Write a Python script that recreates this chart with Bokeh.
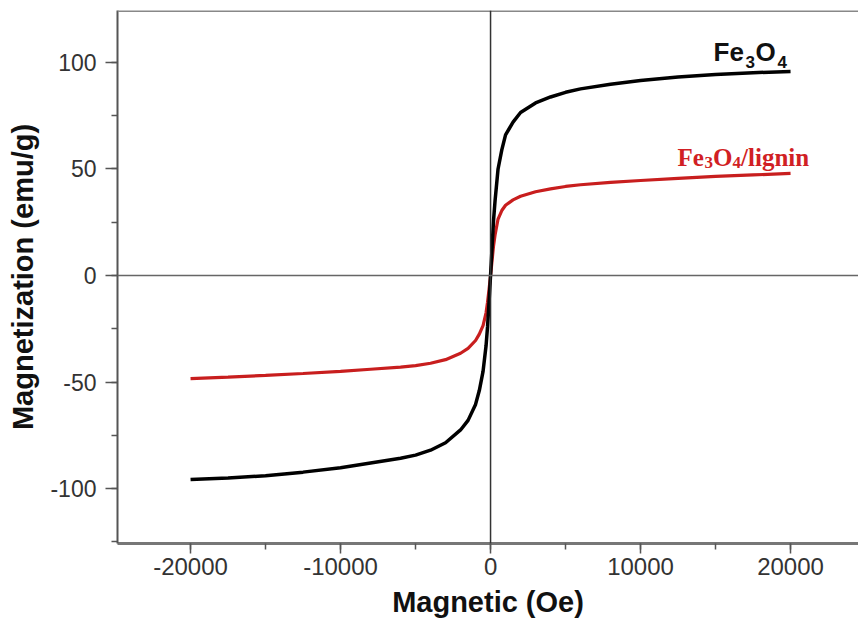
from bokeh.plotting import figure
from bokeh.models import Range1d, SingleIntervalTicker, Span, Label, CustomJSTickFormatter
from bokeh.embed import file_html
from bokeh.resources import INLINE

# Field (Oe)
H = [-20000, -17500, -15000, -12500, -10000, -8000, -6000, -5000, -4000, -3000,
     -2000, -1500, -1000, -750, -500, -300, -200, -100, 0, 100, 200, 300, 500,
     750, 1000, 1500, 2000, 3000, 4000, 5000, 6000, 8000, 10000, 12500, 15000,
     17500, 20000]
# Magnetization (emu/g)
M_fe3o4 = [-95.8, -95.0, -94.0, -92.3, -90.2, -88.0, -85.8, -84.3, -82.0, -78.5,
           -72.5, -68.0, -60.5, -54.0, -45.0, -33.0, -24.0, -12.5, 0, 13, 26, 35, 50,
           59, 66, 72, 76.5, 81, 83.8, 86, 87.6, 89.8, 91.5, 93.2, 94.4,
           95.2, 95.8]
M_lignin = [-48.4, -47.7, -46.9, -46.0, -45.0, -44.0, -43.0, -42.3, -41.2, -39.5,
            -36.5, -34.2, -30.5, -27.5, -23.5, -17.5, -12.5, -6.5, 0, 7, 14, 19, 26.5,
            30.5, 33, 35.5, 37.2, 39.3, 40.7, 41.8, 42.6, 43.7, 44.6, 45.6, 46.5,
            47.2, 47.9]

x_title = "Magnetic (Oe)"
y_title = "Magnetization (emu/g)"

XMIN, XMAX = -24870, 24530
YMIN, YMAX = -125.8, 124.4

p = figure(width=858, height=623, x_range=Range1d(XMIN, XMAX), y_range=Range1d(YMIN, YMAX),
           output_backend="svg", toolbar_location=None,
           min_border_left=117, min_border_right=0, min_border_top=10, min_border_bottom=80)
p.outline_line_color = None
p.xgrid.visible = False
p.ygrid.visible = False
p.background_fill_color = "white"
p.border_fill_color = "white"

FONT = "Liberation Sans"
fmt = CustomJSTickFormatter(code="return tick.toString();")

xa = p.xaxis[0]
xa.ticker = SingleIntervalTicker(interval=10000, num_minor_ticks=2)
xa.formatter = fmt
xa.axis_label = x_title
xa.axis_label_text_font = FONT
xa.axis_label_text_font_style = "bold"
xa.axis_label_text_font_size = "29px"
xa.axis_label_text_color = "#111111"
xa.axis_label_standoff = 8
xa.major_label_text_font = FONT
xa.major_label_text_font_size = "24px"
xa.major_label_text_color = "#333333"
xa.major_label_standoff = 4
xa.axis_line_color = "#777777"
xa.axis_line_width = 3
xa.major_tick_line_color = "#555555"
xa.minor_tick_line_color = "#555555"
xa.major_tick_line_width = 1.5
xa.minor_tick_line_width = 1.5
xa.major_tick_in = 0
xa.major_tick_out = 10
xa.minor_tick_in = 0
xa.minor_tick_out = 6

ya = p.yaxis[0]
ya.ticker = SingleIntervalTicker(interval=50, num_minor_ticks=2)
ya.formatter = fmt
ya.axis_label = y_title
ya.axis_label_text_font = FONT
ya.axis_label_text_font_style = "bold"
ya.axis_label_text_font_size = "29px"
ya.axis_label_text_color = "#111111"
ya.axis_label_standoff = 8
ya.major_label_text_font = FONT
ya.major_label_text_font_size = "23px"
ya.major_label_text_color = "#333333"
ya.major_label_standoff = 9
ya.axis_line_color = "#555555"
ya.axis_line_width = 2
ya.major_tick_line_color = "#555555"
ya.minor_tick_line_color = "#555555"
ya.major_tick_line_width = 1.5
ya.minor_tick_line_width = 1.5
ya.major_tick_in = 0
ya.major_tick_out = 12
ya.minor_tick_in = 0
ya.minor_tick_out = 6

# top frame line and zero lines
p.add_layout(Span(location=YMAX, dimension="width", line_color="#888888", line_width=3))
p.add_layout(Span(location=0, dimension="height", line_color="#333333", line_width=1.5))
p.add_layout(Span(location=0, dimension="width", line_color="#666666", line_width=1.5))

p.line(H, M_lignin, line_color="#c81e1e", line_width=3.2)
p.line(H, M_fe3o4, line_color="#000000", line_width=3.5)

# Fe3O4 label (black, bold sans)
bx, by, bsub = 14870, 104.7, 100.0
for txt, off, y, size in [("Fe", 0, by, "26px"), ("3", 32, bsub, "17px"),
                          ("O", 42, by, "26px"), ("4", 64, bsub, "17px")]:
    p.add_layout(Label(x=bx, y=y, x_offset=off, text=txt, text_font=FONT,
                       text_font_style="bold", text_font_size=size,
                       text_color="#111111", text_baseline="alphabetic"))

# Fe3O4/lignin label (red, bold serif)
rx, ry, rsub = 12470, 55.4, 53.1
for txt, off, y, size in [("Fe", 0, ry, "25px"), ("3", 27, rsub, "17px"),
                          ("O", 35.5, ry, "25px"), ("4", 55, rsub, "17px"),
                          ("/lignin", 63.5, ry, "25px")]:
    p.add_layout(Label(x=rx, y=y, x_offset=off, text=txt, text_font="Liberation Serif",
                       text_font_style="bold", text_font_size=size,
                       text_color="#d11f24", text_baseline="alphabetic"))

open("out.html", "w").write(file_html(p, INLINE))
